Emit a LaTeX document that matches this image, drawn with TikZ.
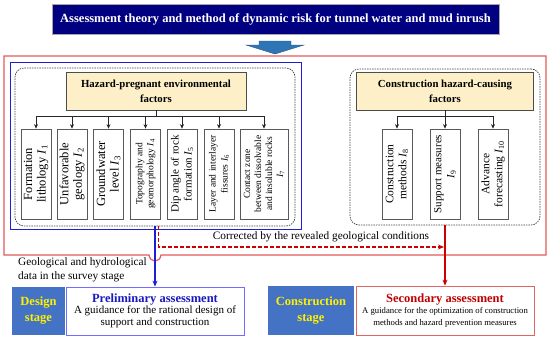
\documentclass[tikz,border=0pt]{standalone}
\usepackage{fontspec}
\setmainfont{Liberation Serif}
\usetikzlibrary{arrows.meta}
\definecolor{titlenavy}{RGB}{0,0,128}
\definecolor{blockblue}{RGB}{46,117,182}
\definecolor{frameRed}{RGB}{226,90,90}
\definecolor{frameBlue}{RGB}{30,30,210}
\definecolor{hpfill}{RGB}{253,240,200}
\definecolor{stageblue}{RGB}{68,114,196}
\definecolor{prelimborder}{RGB}{110,110,255}
\definecolor{prelimtext}{RGB}{25,25,190}
\definecolor{secborder}{RGB}{228,100,100}
\definecolor{sectext}{RGB}{192,0,0}
\definecolor{darkred}{RGB}{204,0,0}
\newcommand\myfs[2]{\fontsize{#1}{#2}\selectfont}
\begin{document}
\begin{tikzpicture}[x=1pt,y=-1pt,
  titlebox/.style={fill=titlenavy, draw=gray!70, line width=1pt, text=white, font=\bfseries\myfs{12.5}{14}, minimum width=447pt, minimum height=30pt, inner sep=0pt},
  dashbox/.style={draw=black!75, dashed, dash pattern=on 1.5pt off 1pt, line width=0.7pt, rounded corners=9pt, inner sep=0pt},
  headbox/.style={fill=hpfill, draw=gray!60!black, line width=0.7pt, font=\bfseries\myfs{10.8}{15}, align=center, minimum height=38pt, inner sep=0pt},
  fbox/.style={draw=gray!70!black, line width=0.7pt, fill=white, rotate=90, align=center, minimum width=90pt, minimum height=30pt, inner sep=1pt},
  conn/.style={draw=black!85, line width=0.7pt},
  arr/.style={conn, -{Stealth[length=4.5pt,width=4pt]}},
  stagebox/.style={fill=stageblue, text=yellow, font=\bfseries\myfs{12.5}{16}, align=center, inner sep=0pt},
  infobox/.style={fill=white, line width=0.8pt, align=center, inner sep=0pt},
  txt/.style={font=\myfs{11.3}{14}, inner sep=0pt}
]
\useasboundingbox (0,0) rectangle (550,340);

% title
\node[titlebox] (title) at (275.5,19) {Assessment theory and method of dynamic risk for tunnel water and mud inrush};
% block arrow
\fill[blockblue, draw=blockblue!75!black, line width=0.4pt] (259,41) -- (291,41) -- (291,45) -- (304,45) -- (275,54) -- (246,45) -- (259,45) -- cycle;

% red callout frame
\draw[frameRed, line width=1.2pt] (4,56) -- (546,56) -- (546,255) -- (161,255) .. controls (160,263) and (150,263) .. (149,255) -- (4,255) -- cycle;
% blue frame
\node[draw=frameBlue, line width=1pt, minimum width=291pt, minimum height=167pt, inner sep=0pt] (blueframe) at (155.5,145.5) {};

% dashed group boxes
\node[dashbox, minimum width=280pt, minimum height=158pt] (dashL) at (155,147) {};
\node[dashbox, minimum width=190pt, minimum height=156pt] (dashR) at (445,147) {};

% heads
\node[headbox, minimum width=180pt] (hp) at (156,91) {Hazard-pregnant environmental\\factors};
\node[headbox, minimum width=177pt] (ch) at (445,91) {Construction hazard-causing\\factors};

% left factors
\node[fbox, font=\myfs{12.5}{13.5}] (f1) at (36,174) {Formation\\lithology \textit{I}\textsubscript{1}};
\node[fbox, font=\myfs{12.5}{13.5}] (f2) at (72,174) {Unfavorable\\geology \textit{I}\textsubscript{2}};
\node[fbox, font=\myfs{12.5}{13.5}] (f3) at (108.5,174) {Groundwater\\level \textit{I}\textsubscript{3}};
\node[fbox, font=\myfs{9.5}{11}] (f4) at (145.5,174) {Topography and\\geomorphology \textit{I}\textsubscript{4}};
\node[fbox, font=\myfs{11}{13}] (f5) at (182,174) {Dip angle of rock\\formation \textit{I}\textsubscript{5}};
\node[fbox, font=\myfs{9.5}{12}] (f6) at (219,174) {Layer and interlayer\\fissures \textit{I}\textsubscript{6}};
\node[fbox, font=\myfs{9.5}{11}, minimum height=48pt] (f7) at (264,174) {Contact zone\\between dissolvable\\and insoluble rocks\\\textit{I}\textsubscript{7}};
% right factors
\node[fbox, font=\myfs{11.5}{13}] (f8) at (397,174) {Construction\\methods \textit{I}\textsubscript{8}};
\node[fbox, font=\myfs{11}{13}] (f9) at (445,174) {Support measures\\\textit{I}\textsubscript{9}};
\node[fbox, font=\myfs{11.5}{13}] (f10) at (493,174) {Advance\\forecasting \textit{I}\textsubscript{10}};

% left tree
\coordinate (busL) at (156,116);
\draw[conn] (hp.south) -- (busL);
\draw[conn] (f1.east |- busL) -- (f7.east |- busL);
\foreach \f in {f1,f2,f3,f4,f5,f6,f7} \draw[arr] (\f.east |- busL) -- (\f.east);
% right tree
\coordinate (busR) at (445,116);
\draw[conn] (ch.south) -- (busR);
\draw[conn] (f8.east |- busR) -- (f10.east |- busR);
\foreach \f in {f8,f9,f10} \draw[arr] (\f.east |- busR) -- (\f.east);

% bottom boxes
\node[stagebox, minimum width=53pt, minimum height=48pt] (design) at (38.5,311) {Design\\stage};
\node[infobox, draw=prelimborder, minimum width=178pt, minimum height=48pt] (prelim) at (155,311)
  {{\color{prelimtext}\bfseries\myfs{12.5}{14}Preliminary assessment}\\[-0.5pt]
   {\myfs{11}{13.5}A guidance for the rational design of}\\
   {\myfs{11}{13.5}support and construction}};
\node[stagebox, minimum width=86pt, minimum height=49pt] (cstage) at (311,310.5) {Construction\\stage};
\node[infobox, draw=secborder, minimum width=178pt, minimum height=49pt] (second) at (445,310.5)
  {{\color{sectext}\bfseries\myfs{12.5}{14}Secondary assessment}\\[-1pt]
   {\myfs{8.7}{11}A guidance for the optimization of construction}\\
   {\myfs{8.7}{11}methods and hazard prevention measures}};

% texts
\node[txt] (corr) at (321,237) {Corrected by the revealed geological conditions};
\node[txt, anchor=north west, align=left] (geo) at (18,257) {Geological and hydrological\\data in the survey stage};

% connectors
\draw[frameBlue, line width=1.2pt, -{Stealth[length=6pt,width=5pt]}] (dashL.south) -- (prelim.north);
\draw[darkred, line width=1.2pt, -{Stealth[length=6pt,width=5pt]}] (dashR.south) -- (second.north);
\coordinate (rdstart) at (158.5,226);
\coordinate (rdend) at (444,247);
\draw[darkred, line width=1.1pt, dash pattern=on 4pt off 2pt, -{Stealth[length=6pt,width=5pt]}] (rdstart) |- (rdend);
\end{tikzpicture}
\end{document}
